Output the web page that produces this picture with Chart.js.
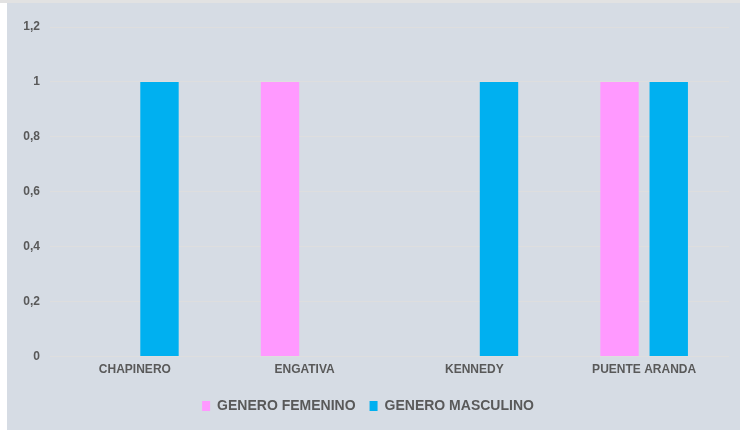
<!DOCTYPE html>
<html>
<head>
<meta charset="utf-8">
<script src="https://cdn.jsdelivr.net/npm/chart.js@4.4.1/dist/chart.umd.min.js"></script>
<style>
  html, body { margin: 0; padding: 0; background: #ffffff; }
  body { width: 740px; height: 430px; position: relative; overflow: hidden; }
  #topStrip { position: absolute; left: 0; top: 0; width: 740px; height: 3px; background: #e2e2e2; }
  #box { position: absolute; left: 7px; top: 3px; width: 733px; height: 427px; background: #d6dce4; }
</style>
</head>
<body>
<div id="topStrip"></div>
<div id="box"><canvas id="barChart" width="733" height="427"></canvas></div>
<script>
var categories = ['CHAPINERO', 'ENGATIVA', 'KENNEDY', 'PUENTE ARANDA'];
var femenino = [0, 1, 0, 1];
var masculino = [1, 0, 1, 1];
var yTicks = [0, 0.2, 0.4, 0.6, 0.8, 1, 1.2];

var ctx = document.getElementById('barChart').getContext('2d');
var fontFamily = '"Liberation Sans", Arial, sans-serif';

var chart = new Chart(ctx, {
  type: 'bar',
  data: {
    labels: categories,
    datasets: [{
      label: 'GENERO FEMENINO',
      data: femenino,
      backgroundColor: '#ff99ff'
    }, {
      label: 'GENERO MASCULINO',
      data: masculino,
      backgroundColor: '#00b0f0'
    }]
  },
  options: {
    responsive: false,
    animation: false,
    categoryPercentage: 0.58,
    barPercentage: 0.78,
    layout: {
      padding: { top: 24, right: 11, bottom: 7, left: 0 }
    },
    scales: {
      y: {
        min: 0,
        max: 1.2,
        afterFit: function (scale) { scale.width = 43; },
        afterBuildTicks: function (scale) {
          scale.ticks = yTicks.map(function (v) { return { value: v }; });
        },
        ticks: {
          padding: 10,
          color: '#595959',
          font: { family: fontFamily, size: 12, weight: 'bold' },
          callback: function (v) { return String(v).replace('.', ','); }
        },
        grid: { color: '#dedede', drawTicks: false },
        border: { display: false }
      },
      x: {
        // extra room under the labels, before the legend
        afterFit: function (scale) { scale.height += 10; },
        ticks: {
          padding: -2,
          color: '#595959',
          font: { family: fontFamily, size: 12, weight: 'bold' }
        },
        grid: { display: false },
        border: { display: false }
      }
    },
    plugins: {
      legend: {
        position: 'bottom',
        labels: {
          boxWidth: 8,
          boxHeight: 10,
          padding: 14,
          color: '#595959',
          font: { family: fontFamily, size: 14, weight: 'bold' }
        }
      },
      tooltip: { enabled: false }
    }
  }
});
</script>
</body>
</html>
